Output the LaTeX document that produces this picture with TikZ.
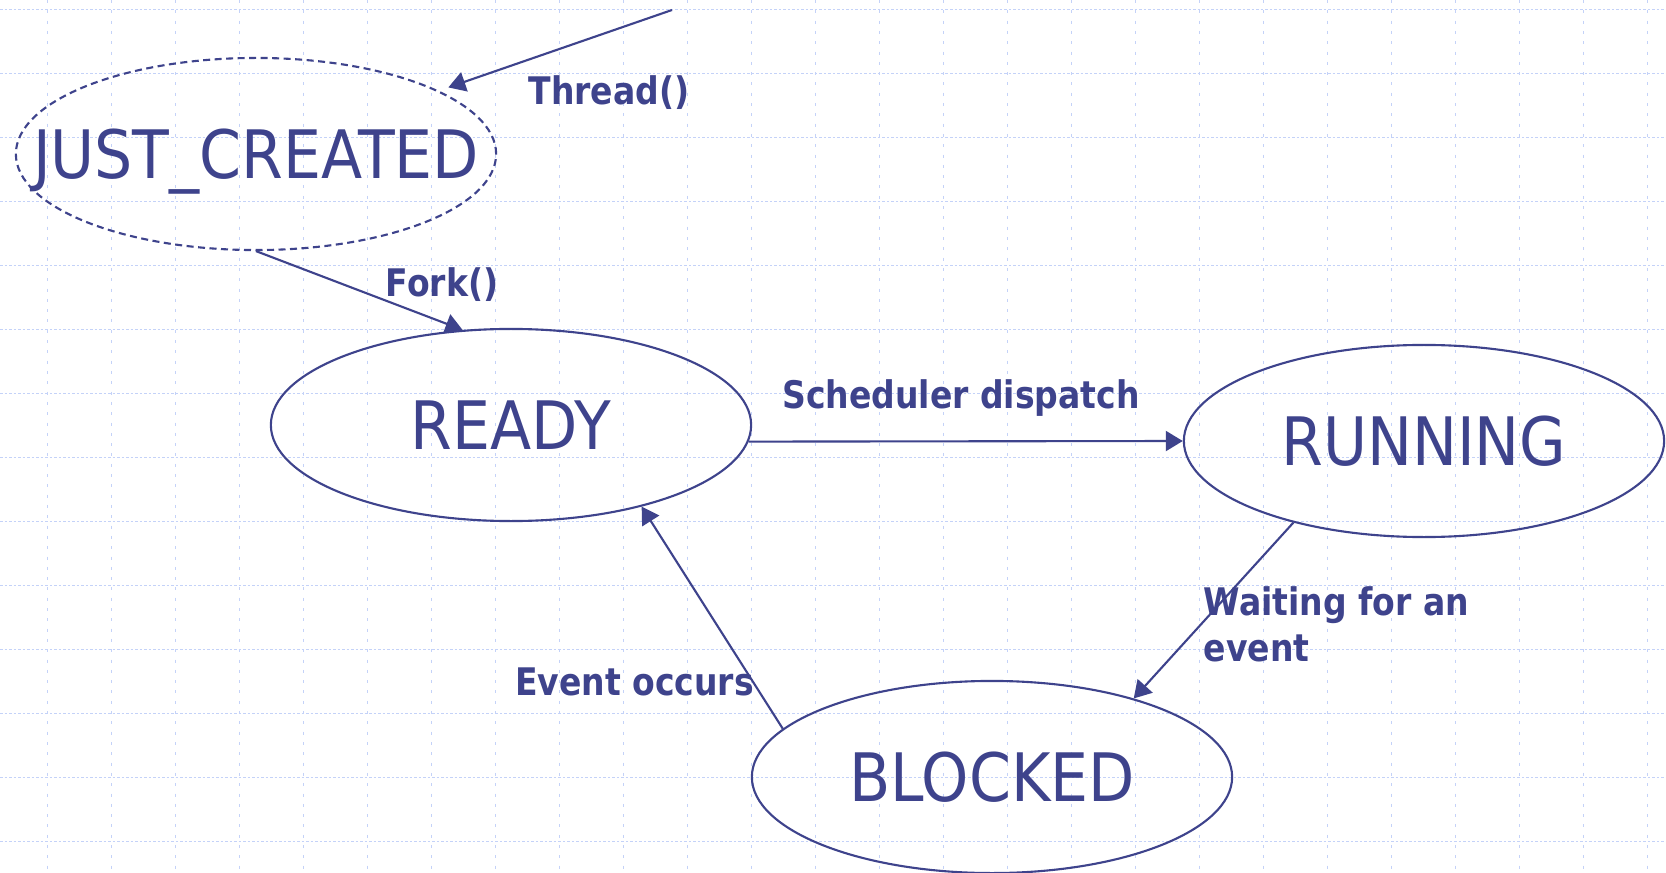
\documentclass[tikz,border=0pt]{standalone}
\usepackage{fontspec}
\setmainfont{DejaVu Sans}[FakeStretch=0.87]
\newfontfamily\statefont{DejaVu Sans}[FakeStretch=0.9]
\usepackage{tikz}
\usetikzlibrary{arrows.meta}
\usetikzlibrary{shapes.geometric}
\usepackage{xcolor}
\definecolor{stateblue}{RGB}{62,67,140}
\definecolor{gridblue}{RGB}{196,210,248}

\tikzset{
  state/.style={ellipse, draw=stateblue, line width=0.6pt,
    minimum width=4.8cm, minimum height=1.92cm, inner sep=0pt,
    text=stateblue, font=\statefont\fontsize{19pt}{23pt}\selectfont,
    text height=0.487cm, text depth=0pt},
  trans/.style={draw=stateblue, line width=0.6pt,
    -{Triangle[length=1.7mm,width=2mm]}},
  translabel/.style={text=stateblue, inner sep=0pt,
    font=\bfseries\fontsize{10.8pt}{13.1pt}\selectfont}
}

\begin{document}
\begin{tikzpicture}[x=0.01cm, y=-0.01cm]
      % Fix the canvas to the slide size
      \path[use as bounding box, fill=white] (0,0) rectangle (1666,873);

      % Draw the background grid
      \foreach \gy in {9.3,73.3,...,841.3}
        \draw[gridblue, line width=0.4pt, dash pattern=on 0.025cm off 0.02cm] (0,\gy) -- (1666,\gy);
      \foreach \gx in {47.3,111.3,...,1647.3}
        \draw[gridblue, line width=0.4pt, dash pattern=on 0.03cm off 0.073cm] (\gx,0) -- (\gx,873);

      % Place the states
      \node[state, dash pattern=on 0.07cm off 0.045cm] (jc) at (256,154) {\makebox[0pt]{JUST\_CREATED}};
      \node[state] (ready) at (511,425) {READY};
      \node[state] (running) at (1424,441) {RUNNING};
      \node[state] (blocked) at (992,777) {BLOCKED};

      % Free end of the creation arrow
      \coordinate (newthread) at (672,10);

      % Draw the transitions
      \draw[trans, shorten >=0.1cm] (newthread) -- (jc);
      \draw[trans] (jc.south) -- (ready.117);
      \draw[trans] (ready.-4) -- (running.west);
      \draw[trans] (running.212) -- (blocked.29);
      \draw[trans] (blocked.167) -- (ready.-32);

      % Label the transitions
      \node[translabel, anchor=base] (threadlbl) at (609,105) {Thread()};
      \node[translabel, anchor=base] (forklbl) at (442,297) {Fork()};
      \node[translabel, anchor=base] (dispatchlbl) at (961,409) {Scheduler dispatch};
      \node[translabel, anchor=north west, align=left] (waitlbl) at (1203,586) {Waiting for an\\event};
      \node[translabel, anchor=base] (occurslbl) at (634.5,695) {Event occurs};
    \end{tikzpicture}
\end{document}
